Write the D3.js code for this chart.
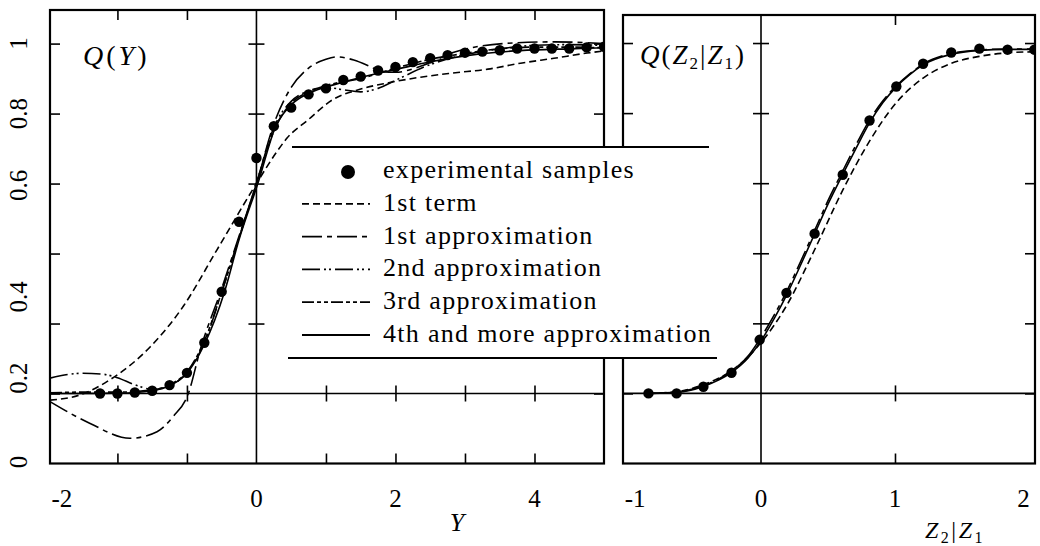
<!DOCTYPE html>
<html>
<head>
<meta charset="utf-8">
<script src="https://cdn.jsdelivr.net/npm/d3@7"></script>
<style>
  body { margin: 0; background: #fff; }
  svg text { font-family: 'Liberation Serif', 'Times New Roman', Times, serif; fill: #000; }
</style>
</head>
<body>
<svg id="fig" width="1040" height="546"></svg>
<script>
// ---- left panel, Q(Y) ----
var sampleY = [-2.25,-2,-1.75,-1.5,-1.25,-1,-0.75,-0.5,-0.25,0,0.25,0.5,0.75,1,1.25,1.5,1.75,2,2.25,2.5,2.75,3,3.25,3.5,3.75,4,4.25,4.5,4.75,5];
var sampleQ = [0,0,0.003,0.008,0.024,0.059,0.145,0.291,0.491,0.673,0.764,0.817,0.855,0.872,0.896,0.906,0.923,0.933,0.947,0.958,0.967,0.974,0.977,0.981,0.986,0.986,0.986,0.986,0.989,0.991];

var term1Y = [-2.97,-2.54,-2.11,-1.53,-1.05,-0.57,0,0.29,0.44,0.73,1.1,1.5,1.9,2.36,2.83,3.33,3.8,4.28,4.76,5.0];
var term1Q = [-0.019,-0.004,0.039,0.133,0.25,0.41,0.6,0.69,0.73,0.78,0.84,0.87,0.888,0.904,0.916,0.927,0.944,0.958,0.973,0.979];

var approx1Y = [-2.97,-2.4,-1.82,-1.43,-1.2,-0.98,-0.81,-0.5,-0.25,0,0.25,0.5,0.75,1,1.16,1.4,1.64,1.8,2.0,2.36,2.84,3.55,4.28,5.0];
var approx1Q = [-0.023,-0.085,-0.128,-0.109,-0.066,0,0.124,0.3,0.45,0.6,0.77,0.875,0.93,0.955,0.962,0.953,0.934,0.92,0.918,0.935,0.975,1.0,1.005,1.0];

var approx2Y = [-2.97,-2.5,-2.2,-2,-1.75,-1.5,-1.25,-1,-0.75,-0.5,-0.25,0,0.25,0.5,0.75,1,1.25,1.5,1.75,2,2.5,3,3.5,4,4.5,5];
var approx2Q = [0.044,0.058,0.055,0.045,0.025,0.012,0.022,0.06,0.145,0.29,0.445,0.6,0.76,0.835,0.865,0.875,0.868,0.862,0.872,0.895,0.94,0.968,0.985,0.995,0.997,0.995];

var approx3Y = [-2.97,-2.5,-2,-1.5,-1.25,-1,-0.75,-0.5,-0.25,0,0.25,0.5,0.75,1,1.5,2,2.5,3,3.5,4,4.5,5];
var approx3Q = [0.002,0.004,0.004,0.01,0.025,0.062,0.15,0.29,0.445,0.6,0.75,0.83,0.862,0.88,0.9,0.93,0.955,0.972,0.985,0.99,0.99,0.988];

var approx4Y = [-2.97,-2.5,-2,-1.5,-1.25,-1,-0.75,-0.46,-0.25,0.02,0.28,0.5,0.75,1,1.25,1.5,1.75,2,2.5,3,3.5,4,4.5,5];
var approx4Q = [0,0,0.001,0.008,0.022,0.058,0.14,0.29,0.44,0.6,0.765,0.825,0.858,0.876,0.89,0.903,0.915,0.926,0.948,0.965,0.976,0.982,0.985,0.988];

// ---- right panel, Q(Z2|Z1) ----
var zSampleX = [-0.84,-0.63,-0.43,-0.22,-0.01,0.19,0.4,0.61,0.81,1.01,1.21,1.42,1.63,1.84,2.04];
var zSampleQ = [0,0,0.019,0.059,0.153,0.287,0.456,0.624,0.779,0.876,0.941,0.973,0.984,0.981,0.981];

var zTerm1X = [-0.84,-0.63,-0.43,-0.22,0,0.19,0.4,0.61,0.81,1.01,1.21,1.42,1.63,1.84,2.045];
var zTerm1Q = [0,0.005,0.025,0.065,0.145,0.25,0.41,0.58,0.72,0.83,0.9,0.942,0.962,0.972,0.975];

var zApprox1X = [-0.84,-0.63,-0.43,-0.22,-0.1,0,0.1,0.19,0.3,0.4,0.5,0.61,0.71,0.81,0.91,1.01,1.11,1.21,1.42,1.63,1.84,2.045];
var zApprox1Q = [0,0.004,0.022,0.064,0.105,0.16,0.225,0.29,0.38,0.465,0.55,0.635,0.71,0.78,0.835,0.878,0.912,0.94,0.97,0.98,0.983,0.983];

var zApprox4X = [-0.84,-0.63,-0.43,-0.22,-0.1,0,0.1,0.19,0.3,0.4,0.5,0.61,0.71,0.81,0.91,1.01,1.11,1.21,1.42,1.63,1.84,2.045];
var zApprox4Q = [0,0.003,0.02,0.06,0.1,0.15,0.215,0.28,0.37,0.455,0.54,0.625,0.7,0.772,0.83,0.875,0.91,0.938,0.968,0.979,0.982,0.982];

// ---- ticks and labels ----
var qTicks = [0,0.2,0.4,0.6,0.8,1];
var qLabels = ["0","0.2","0.4","0.6","0.8","1"];
var qLabelAt = [-0.196,0.044,0.276,0.595,0.8,1];   // where the printed labels sit
var yTicks = [-2,-1,1,2,3,4];
var yLabels = ["-2","0","2","4"];
var yLabelAt = [-2.8,0,2,4];
var zTicks = [1];
var zLabels = ["-1","0","1","2"];
var zLabelAt = [-0.94,0,1,1.96];

var legendNames = ["experimental samples","1st term","1st approximation","2nd approximation","3rd approximation","4th and more approximation"];
var dashes = {term1: "7,4", a1: "20,5,5,5", a2: "18,4,2,3,2,4", a3: "12,3,4,3,4,3", a4: null};

var svg = d3.select("#fig");

var xL = d3.scaleLinear().domain([-2.97, 5.0]).range([50, 604]),
    yL = d3.scaleLinear().domain([-0.2, 1.096]).range([463.5, 10]);
var xR = d3.scaleLinear().domain([-1.03, 2.045]).range([623, 1035]),
    yR = d3.scaleLinear().domain([-0.2, 1.08]).range([463.5, 15]);

var line = function(x, y) {
  return d3.line().curve(d3.curveMonotoneX)
    .x(function(d) { return x(d[0]); })
    .y(function(d) { return y(d[1]); });
};

function panel(id, x, y, xt, yt) {
  var g = svg.append("g").attr("class", id);
  var x0 = x.range()[0], x1 = x.range()[1], y0 = y.range()[0], y1 = y.range()[1];

  g.append("clipPath").attr("id", "clip-" + id)
    .append("rect").attr("x", x0).attr("y", y1).attr("width", x1 - x0).attr("height", y0 - y1);

  // axis lines through zero
  g.append("line").attr("x1", x(0)).attr("x2", x(0)).attr("y1", y1).attr("y2", y0)
    .attr("stroke", "#000").attr("stroke-width", 1.6);
  g.append("line").attr("x1", x0).attr("x2", x1).attr("y1", y(0)).attr("y2", y(0))
    .attr("stroke", "#000").attr("stroke-width", 1.6);

  var tick = function(axis, tx, ty) {
    var a = g.append("g").attr("transform", "translate(" + tx + "," + ty + ")")
      .call(axis.tickFormat("").tickSizeOuter(0));
    a.select(".domain").remove();
    a.selectAll("line").attr("stroke", "#000").attr("stroke-width", 1.6);
  };
  tick(d3.axisLeft(y).tickValues(yt).tickSizeInner(-10), x0, 0);
  tick(d3.axisRight(y).tickValues(yt).tickSizeInner(-10), x1, 0);
  tick(d3.axisTop(x).tickValues(xt).tickSizeInner(-10), 0, y1);
  tick(d3.axisBottom(x).tickValues(xt).tickSizeInner(-10), 0, y0);
  // crossing ticks on the zero lines
  tick(d3.axisLeft(y).tickValues(yt.filter(function(v) { return v !== 0; })).tickSizeInner(16), x(0) + 8, 0);
  tick(d3.axisBottom(x).tickValues(xt).tickSizeInner(16), 0, y(0) - 8);

  g.append("rect").attr("x", x0).attr("y", y1).attr("width", x1 - x0).attr("height", y0 - y1)
    .attr("fill", "none").attr("stroke", "#000").attr("stroke-width", 2.2);

  return g.append("g").attr("clip-path", "url(#clip-" + id + ")");
}

function curve(g, x, y, xs, qs, dash) {
  g.append("path")
    .datum(xs.map(function(v, i) { return [v, qs[i]]; }))
    .attr("d", line(x, y))
    .attr("fill", "none").attr("stroke", "#000").attr("stroke-width", 1.6)
    .attr("stroke-dasharray", dash);
}

function dots(g, x, y, xs, qs) {
  g.selectAll("circle.s").data(xs.map(function(v, i) { return [v, qs[i]]; }))
    .enter().append("circle").attr("class", "s")
    .attr("cx", function(d) { return x(d[0]); })
    .attr("cy", function(d) { return y(d[1]); })
    .attr("r", 5.2).attr("fill", "#000");
}

// left panel
var pl = panel("left", xL, yL, yTicks, qTicks);
curve(pl, xL, yL, term1Y, term1Q, dashes.term1);
curve(pl, xL, yL, approx1Y, approx1Q, dashes.a1);
curve(pl, xL, yL, approx2Y, approx2Q, dashes.a2);
curve(pl, xL, yL, approx3Y, approx3Q, dashes.a3);
curve(pl, xL, yL, approx4Y, approx4Q, dashes.a4);
dots(pl, xL, yL, sampleY, sampleQ);

// right panel
var pr = panel("right", xR, yR, zTicks, qTicks);
curve(pr, xR, yR, zTerm1X, zTerm1Q, dashes.term1);
curve(pr, xR, yR, zApprox1X, zApprox1Q, dashes.a1);
curve(pr, xR, yR, zApprox4X, zApprox4Q, dashes.a4);
dots(pr, xR, yR, zSampleX, zSampleQ);

// tick labels
var labels = svg.append("g").attr("font-size", 25);
labels.selectAll("text.q").data(qLabels).enter().append("text").attr("class", "q")
  .attr("text-anchor", "middle")
  .attr("transform", function(d, i) { return "translate(27," + yL(qLabelAt[i]) + ") rotate(-90)"; })
  .text(function(d) { return d; });
labels.selectAll("text.y").data(yLabels).enter().append("text").attr("class", "y")
  .attr("text-anchor", "middle").attr("x", function(d, i) { return xL(yLabelAt[i]); }).attr("y", 507)
  .text(function(d) { return d; });
labels.selectAll("text.z").data(zLabels).enter().append("text").attr("class", "z")
  .attr("text-anchor", "middle").attr("x", function(d, i) { return xR(zLabelAt[i]); }).attr("y", 507)
  .text(function(d) { return d; });

// axis titles
svg.append("text").attr("x", 457).attr("y", 531).attr("text-anchor", "middle")
  .attr("font-size", 26).attr("font-style", "italic").text("Y");

var zt = svg.append("text").attr("x", 925).attr("y", 538).attr("font-size", 24).attr("letter-spacing", 2.5);
zt.append("tspan").attr("font-style", "italic").text("Z");
zt.append("tspan").attr("dy", 5).attr("font-size", 16).text("2");
zt.append("tspan").attr("dy", -5).text("|");
zt.append("tspan").attr("font-style", "italic").text("Z");
zt.append("tspan").attr("dy", 5).attr("font-size", 16).text("1");

var qy = svg.append("text").attr("x", 83).attr("y", 65).attr("font-size", 28).attr("letter-spacing", 3);
qy.append("tspan").attr("font-style", "italic").text("Q");
qy.append("tspan").text("(");
qy.append("tspan").attr("font-style", "italic").text("Y");
qy.append("tspan").text(")");

var qz = svg.append("text").attr("x", 640).attr("y", 64).attr("font-size", 27).attr("letter-spacing", 2);
qz.append("tspan").attr("font-style", "italic").text("Q");
qz.append("tspan").text("(");
qz.append("tspan").attr("font-style", "italic").text("Z");
qz.append("tspan").attr("dy", 5).attr("font-size", 17).text("2");
qz.append("tspan").attr("dy", -5).text("|");
qz.append("tspan").attr("font-style", "italic").text("Z");
qz.append("tspan").attr("dy", 5).attr("font-size", 17).text("1");
qz.append("tspan").attr("dy", -5).text(")");

// legend, laid over both frames
var lg = svg.append("g");
lg.append("rect").attr("x", 289).attr("y", 147).attr("width", 428).attr("height", 211).attr("fill", "#fff");
lg.append("line").attr("x1", 292).attr("x2", 709).attr("y1", 147).attr("y2", 147).attr("stroke", "#000").attr("stroke-width", 2.2);
lg.append("line").attr("x1", 288).attr("x2", 717).attr("y1", 358).attr("y2", 358).attr("stroke", "#000").attr("stroke-width", 2.2);

var rowY = d3.scaleLinear().domain([0, 5]).range([178, 342]);
var legendDash = [null, dashes.term1, dashes.a1, dashes.a2, dashes.a3, "none"];
legendNames.forEach(function(name, i) {
  if (i === 0) {
    lg.append("circle").attr("cx", 348).attr("cy", rowY(i) - 6).attr("r", 7).attr("fill", "#000");
  } else {
    lg.append("line").attr("x1", 302).attr("x2", 370).attr("y1", rowY(i) - 7).attr("y2", rowY(i) - 7)
      .attr("stroke", "#000").attr("stroke-width", 1.8)
      .attr("stroke-dasharray", legendDash[i] === "none" ? null : legendDash[i]);
  }
  lg.append("text").attr("x", 383).attr("y", rowY(i))
    .attr("font-size", 26).attr("letter-spacing", 1.3).text(name);
});
</script>
</body>
</html>
